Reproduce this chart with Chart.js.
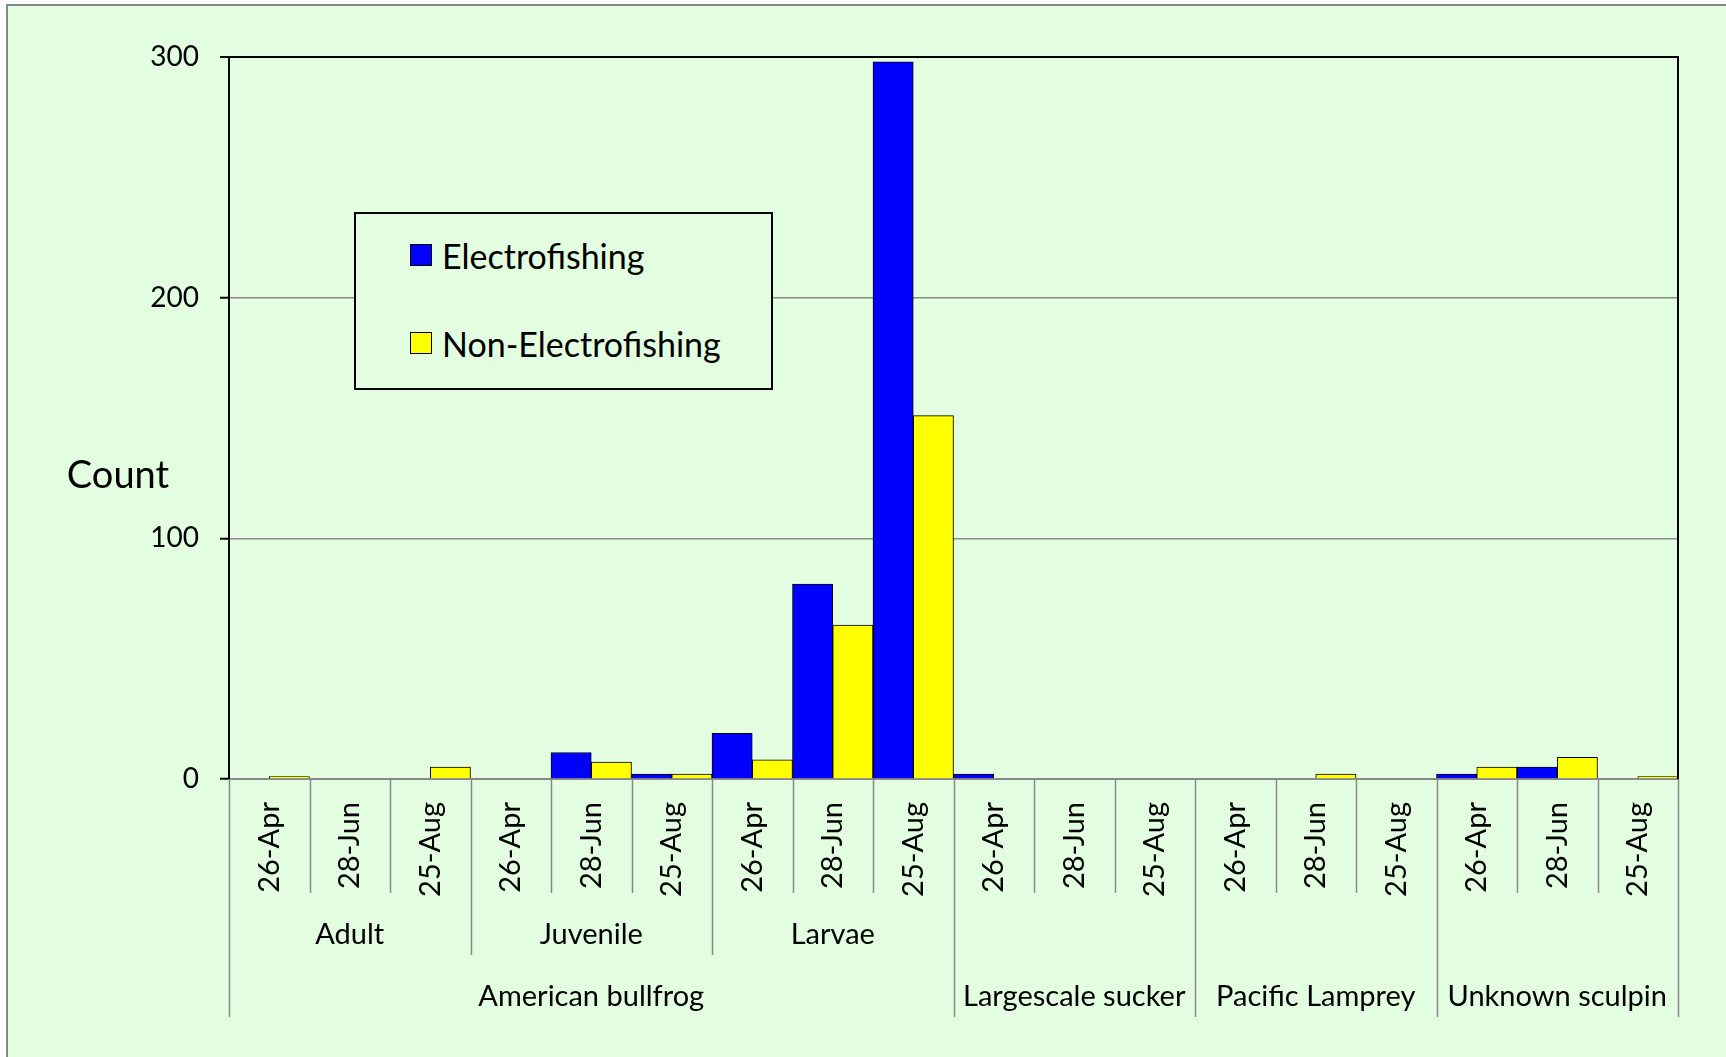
<!DOCTYPE html>
<html>
<head>
<meta charset="utf-8">
<title>Count by species, stage and date</title>
<script src="https://cdn.jsdelivr.net/npm/chart.js@4.4.1/dist/chart.umd.min.js"></script>
<style>
  html, body { margin: 0; padding: 0; background: #fff; overflow: hidden; }
  #frame { position: absolute; left: 6px; top: 4px; width: 1800px; height: 1100px; border: 2px solid #878787; background: #e2fde0; }
  #wrap { position: absolute; left: 0; top: 0; width: 1726px; height: 1057px; }
  #legend { position: absolute; left: 354px; top: 212px; width: 419px; height: 178px; box-sizing: border-box;
            border: 2px solid #000; background: #e2fde0; font-family: Lato, sans-serif; font-size: 34px; color: #000; }
  #legend .item { position: absolute; left: 54px; height: 40px; display: flex; align-items: center; white-space: nowrap; }
  #legend .swatch { width: 20px; height: 20px; border: 1px solid #000; margin-right: 10px; }
</style>
</head>
<body>
<div id="frame"></div>
<div id="wrap"><canvas id="fishChart"></canvas></div>
<div id="legend"></div>

<script>
// survey dates, repeated for every stage/species group
const dates = ['26-Apr', '28-Jun', '25-Aug'];
// stage row (only the bullfrog has stages)
const stages = ['Adult', 'Juvenile', 'Larvae', '', '', ''];
// species row, and how many date groups each one covers
const species = ['American bullfrog', 'Largescale sucker', 'Pacific Lamprey', 'Unknown sculpin'];
const speciesSpan = [3, 1, 1, 1];

const electrofishing    = [0, 0, 0,  0, 11, 2,  19, 81, 298,  2, 0, 0,  0, 0, 0,  2, 5, 0];
const nonElectrofishing = [1, 0, 5,  0, 7, 2,   8, 64, 151,   0, 0, 0,  0, 2, 0,  5, 9, 1];

const yTicks = [0, 100, 200, 300];
const yTitle = 'Count';

const labels = stages.flatMap(() => dates);

// boundaries (in category units) where a species changes
const speciesEdges = [0];
speciesSpan.forEach(n => speciesEdges.push(speciesEdges[speciesEdges.length - 1] + n * dates.length));

const FONT = 'Lato, sans-serif';

// draws the grouped category rows under the x axis, the right plot edge and the y title
const axisGroups = {
  id: 'axisGroups',
  afterDraw(chart) {
    const { ctx, chartArea, scales: { x } } = chart;
    const base = chartArea.bottom;
    const edge = b => x.getPixelForValue(b - 0.5);

    ctx.save();
    ctx.strokeStyle = '#898989';
    ctx.lineWidth = 1.5;
    for (let b = 0; b <= labels.length; b++) {
      let depth = 114;
      if (speciesEdges.includes(b)) depth = 238;
      else if (b % dates.length === 0) depth = 176;
      const px = Math.round(edge(b)) + 0.5;
      ctx.beginPath();
      ctx.moveTo(px, base);
      ctx.lineTo(px, base + depth);
      ctx.stroke();
    }

    // right edge of plot area
    ctx.strokeStyle = '#000';
    ctx.lineWidth = 2;
    ctx.beginPath();
    ctx.moveTo(chartArea.right, chartArea.top - 1);
    ctx.lineTo(chartArea.right, chartArea.bottom);
    ctx.stroke();

    ctx.fillStyle = '#000';
    ctx.textAlign = 'center';
    ctx.textBaseline = 'middle';
    ctx.font = '29px ' + FONT;
    stages.forEach((s, i) => {
      if (!s) return;
      const cx = (edge(i * dates.length) + edge((i + 1) * dates.length)) / 2;
      ctx.fillText(s, cx, base + 156);
    });
    species.forEach((s, i) => {
      const cx = (edge(speciesEdges[i]) + edge(speciesEdges[i + 1])) / 2;
      ctx.fillText(s, cx, base + 218);
    });

    ctx.font = '38px ' + FONT;
    ctx.fillText(yTitle, 118, 476);
    ctx.restore();
  }
};

const chart = new Chart(document.getElementById('fishChart'), {
  type: 'bar',
  data: {
    labels: labels,
    datasets: [
      {
        label: 'Electrofishing',
        data: electrofishing,
        backgroundColor: '#0000ff',
        borderColor: '#000',
        borderWidth: 1
      },
      {
        label: 'Non-Electrofishing',
        data: nonElectrofishing,
        backgroundColor: '#ffff00',
        borderColor: '#000',
        borderWidth: 1
      }
    ]
  },
  options: {
    responsive: true,
    maintainAspectRatio: false,
    animation: false,
    categoryPercentage: 1,
    barPercentage: 1,
    layout: { padding: { top: 57, right: 48, bottom: 0, left: 0 } },
    plugins: {
      legend: { display: false },
      tooltip: { enabled: false }
    },
    scales: {
      x: {
        grid: { display: false },
        border: { display: true, color: '#898989', width: 2 },
        ticks: {
          autoSkip: false,
          minRotation: 90,
          maxRotation: 90,
          padding: 15,
          color: '#000',
          font: { family: FONT, size: 29 }
        },
        afterFit: scale => { scale.height = 278; }
      },
      y: {
        min: yTicks[0],
        max: yTicks[yTicks.length - 1],
        afterBuildTicks: scale => { scale.ticks = yTicks.map(v => ({ value: v })); },
        grid: {
          color: c => c.tick && c.tick.value === 300 ? '#000' : '#898989',
          lineWidth: c => c.tick && c.tick.value === 300 ? 2 : 1.5,
          tickLength: 9,
          tickColor: '#000',
          tickWidth: 2
        },
        border: { display: true, color: '#000', width: 2 },
        ticks: {
          padding: 21,
          color: '#000',
          font: { family: FONT, size: 28 }
        },
        afterFit: scale => { scale.width = 229; }
      }
    }
  },
  plugins: [axisGroups]
});

// legend box drawn from the chart's own datasets
const legendBox = document.getElementById('legend');
const rowTops = [21, 109];
chart.data.datasets.forEach((ds, i) => {
  const item = document.createElement('div');
  item.className = 'item';
  item.style.top = rowTops[i] + 'px';
  const sw = document.createElement('span');
  sw.className = 'swatch';
  sw.style.background = ds.backgroundColor;
  const txt = document.createElement('span');
  txt.textContent = ds.label;
  item.appendChild(sw);
  item.appendChild(txt);
  legendBox.appendChild(item);
});
</script>
</body>
</html>
